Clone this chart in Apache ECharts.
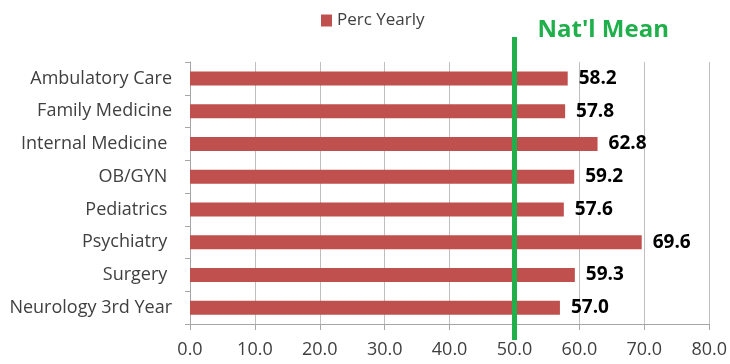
<!DOCTYPE html>
<html>
<head>
<meta charset="utf-8">
<script src="https://cdn.jsdelivr.net/npm/echarts@6/dist/echarts.min.js"></script>
<style>
  html, body { margin: 0; padding: 0; background: #fff; }
  #chart { width: 730px; height: 364px; }
</style>
</head>
<body>
<div id="chart"></div>
<script>
// Rotations, top to bottom
const categories = ['Ambulatory Care', 'Family Medicine', 'Internal Medicine ', 'OB/GYN ', 'Pediatrics ', 'Psychiatry ', 'Surgery ', 'Neurology 3rd Year'];
const percYearly = [58.2, 57.8, 62.8, 59.2, 57.6, 69.6, 59.3, 57.0];
const natlMean = 50;
const xTicks = { min: 0, max: 80, interval: 10 };

const FONT = '"Open Sans", "Noto Sans", sans-serif';
const chart = echarts.init(document.getElementById('chart'));

chart.setOption({
  animation: false,
  textStyle: { fontFamily: FONT },
  legend: {
    data: ['Perc Yearly'],
    top: 7, left: 316,
    icon: 'rect', itemWidth: 11, itemHeight: 12, itemGap: 6,
    textStyle: { fontSize: 17, color: '#404040', fontFamily: FONT }
  },
  grid: { left: 190, right: 20, top: 62, bottom: 40 },
  xAxis: {
    type: 'value',
    min: xTicks.min, max: xTicks.max, interval: xTicks.interval,
    axisLine: { show: true, lineStyle: { color: '#A6A6A6' } },
    axisTick: { show: true, length: 6, lineStyle: { color: '#A6A6A6' } },
    splitLine: { show: true, lineStyle: { color: '#BFBFBF', width: 1 } },
    axisLabel: {
      color: '#404040', fontSize: 18, margin: 17,
      formatter: v => v.toFixed(1)
    }
  },
  yAxis: {
    type: 'category',
    data: categories,
    inverse: true,
    axisLine: { show: true, lineStyle: { color: '#A6A6A6' } },
    axisTick: { show: true, length: 5, lineStyle: { color: '#A6A6A6' } },
    axisLabel: { color: '#404040', fontSize: 18, margin: 18 }
  },
  series: [{
    name: 'Perc Yearly',
    type: 'bar',
    data: percYearly,
    barWidth: 14,
    itemStyle: { color: '#C0504D' },
    label: {
      show: true, position: 'right', distance: 11,
      formatter: p => p.value.toFixed(1),
      color: '#000', fontWeight: 'bold', fontSize: 19, fontFamily: FONT
    }
  }]
});

// National mean marker: a vertical rule that runs past the plot edges, with its caption
const meanX = chart.convertToPixel({ xAxisIndex: 0 }, natlMean);
chart.setOption({
  graphic: [
    {
      type: 'rect',
      shape: { x: meanX - 2.5, y: 37, width: 5, height: 303 },
      style: { fill: '#1FAF4B' },
      z: 100
    },
    {
      type: 'text',
      x: meanX + 23, y: 30,
      style: {
        text: "Nat'l Mean",
        fill: '#1FAF4B',
        font: 'bold 24px ' + FONT,
        verticalAlign: 'middle'
      },
      z: 100
    }
  ]
});
</script>
</body>
</html>
